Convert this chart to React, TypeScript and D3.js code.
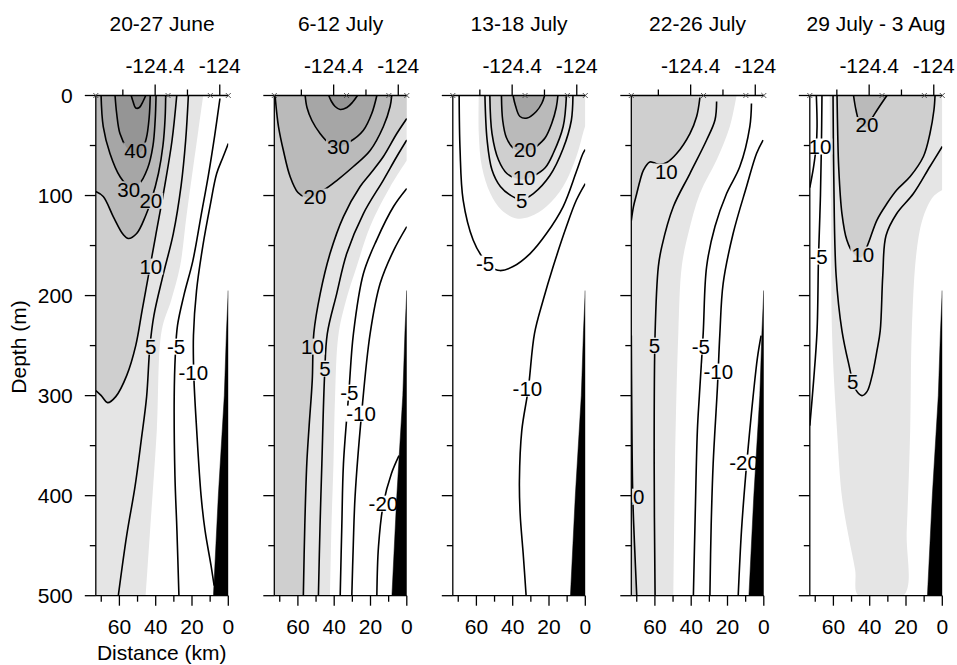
import React from 'react';
import * as d3 from 'd3';

type Pt = [number, number];
interface Contour { level: number; pts: Pt[]; label?: Pt; draw?: boolean; fill?: Pt[]; }

// ---------- data ----------
const titles = ['20-27 June', '6-12 July', '13-18 July', '22-26 July', '29 July - 3 Aug'];
const depthMajor = [0, 100, 200, 300, 400, 500];
const depthMinor = [50, 150, 250, 350, 450];
const distMajor = [60, 40, 20, 0];
const distMinor = [70, 50, 30, 10];
const lonMajor = [-124.4, -124];
const lonMinor = [-124.6, -124.2];
const lonRef: number[] = [-124.4, -124];
const lonRefKm: number[] = [40.3, 4.7];
const stations = [73, 33.2, 9.9, 0];
const bathymetry: Pt[] = [[0, 195], [1, 235], [2.2, 300], [5.5, 400], [8.2, 500]];
const fillLevels = [0, 10, 20, 30, 40, 50];
const fillColors = ['#e5e5e5', '#cfcfcf', '#bababa', '#a6a6a6', '#959595', '#888888'];

const june: Contour[] = [
  { level: 50, pts: [[53.5, 0], [52.5, 6], [51, 12.5], [49, 12], [47, 6], [45.5, 0]], fill: [] },
  { level: 40, label: [51, 55], pts: [[62.4, 0], [61.5, 18], [59.7, 38], [56, 52], [52, 59], [48, 56], [45.2, 43], [43.6, 22], [43, 0]], fill: [] },
  { level: 30, label: [54.9, 93.7], pts: [[70.1, 0], [68.9, 31], [65.2, 58], [59.7, 81], [54.5, 91], [49, 88], [44.5, 73], [41.5, 50], [40.3, 25], [39.8, 0]], fill: [] },
  { level: 20, label: [42.7, 105.3], pts: [[73, 96], [68.9, 101], [63.4, 121], [57.9, 139], [55.1, 143], [50.5, 138], [45.5, 120], [42.3, 104], [38.5, 78], [36, 50], [34.8, 22], [34.5, 0]], fill: [[73, 0]] },
  { level: 10, label: [42.7, 171], pts: [[73, 295], [70, 300], [66.5, 307], [62, 301], [56, 280], [51, 250], [47.5, 215], [43.5, 175], [40, 140], [35, 90], [31, 45], [28.4, 0]], fill: [[73, 0]] },
  { level: 5, label: [42.7, 251], pts: [[22, 0], [23.5, 45], [26, 90], [30.3, 138], [36, 180], [41, 220], [43.2, 251], [45, 301], [48, 345], [51.4, 391], [56, 440], [60.6, 500]] },
  { level: 0, draw: false, pts: [[13.8, 0], [16.5, 35], [19.3, 71], [23, 120], [26.6, 171], [31.5, 205], [36.7, 235], [39.4, 335], [43.1, 435], [45.5, 500]], fill: [[73, 500], [73, 0]] },
  { level: -5, label: [28.8, 251], pts: [[4.6, 3], [7.5, 40], [11, 80], [15, 120], [19.5, 165], [24.5, 200], [28, 230], [29.2, 260], [29.8, 301], [29.4, 380], [28.3, 435], [27.2, 500]] },
  { level: -10, label: [19.3, 277], pts: [[0, 48], [3, 62], [6.4, 78], [10, 110], [14, 150], [17.5, 195], [19.2, 240], [19, 280], [17.4, 335], [15, 400], [12.8, 435], [9.5, 470], [7.8, 490]] },
];

const july6: Contour[] = [
  { level: 40, pts: [[43, 0], [41.5, 6], [39.5, 11], [36.7, 14], [33, 12], [30, 7], [27.2, 0]], fill: [] },
  { level: 30, label: [37.7, 51], pts: [[56, 0], [55, 12], [52.3, 25], [47.8, 38], [43.2, 47], [38, 51], [31.2, 46], [24, 35], [19.3, 18], [16.5, 0]], fill: [] },
  { level: 20, label: [50.6, 101], pts: [[72.6, 0], [71.5, 20], [70.7, 31], [68, 55], [64.3, 81], [60, 97], [55.5, 102], [50.6, 101], [46, 95], [38.6, 85], [29.4, 71], [20.2, 55], [12.9, 31], [9.2, 11], [8.3, 0]], fill: [] },
  { level: 10, label: [52, 251], pts: [[0, 23], [5.5, 38], [12.9, 61], [20, 78], [25.7, 91], [34.9, 121], [42.3, 158], [47.7, 198], [51.2, 237], [52.1, 285], [53.8, 330], [55.1, 368], [56.2, 430], [57, 500]], fill: [[73, 500], [73, 0], [0, 0]] },
  { level: 5, label: [45.1, 273], pts: [[0, 44.5], [5.5, 61], [12.9, 84.5], [23.9, 118], [33.1, 158], [38.6, 198], [43.8, 238], [45.3, 280], [46.8, 368], [47.8, 430], [48.7, 500]] },
  { level: 0, draw: false, pts: [[0, 65], [9.2, 91.5], [20.2, 131], [27.6, 171], [33.5, 205], [37.7, 240], [39.5, 300], [40.4, 368], [41.5, 430], [42.3, 500]], fill: [[73, 500], [73, 0], [0, 0]] },
  { level: -5, label: [31.7, 297], pts: [[0, 93], [7.3, 111], [16.5, 144], [23.9, 178], [29.4, 238], [31.9, 296], [34.9, 368], [35.8, 430], [36.7, 500]] },
  { level: -10, label: [25.2, 318], pts: [[0, 131], [7.3, 155], [14.7, 188], [20.2, 238], [24.9, 318], [28.5, 401], [29.5, 450], [30.3, 500]] },
  { level: -20, label: [12.9, 408], pts: [[4.3, 360], [8.5, 378], [12.9, 408], [15.6, 451], [16.5, 500]] },
];

const july13: Contour[] = [
  { level: 30, pts: [[39.8, 0], [38.5, 10], [36, 21], [32, 22.5], [27, 16], [24, 8], [22.4, 0]], fill: [] },
  { level: 20, label: [33.2, 54], pts: [[46.2, 0], [45.5, 25], [43.5, 42], [40, 52], [35, 56], [30, 55], [26.9, 51], [22, 42], [18.5, 28], [16, 12], [15.1, 0]], fill: [] },
  { level: 10, label: [33.7, 82], pts: [[52.6, 0], [51.4, 38], [47.8, 64.5], [43.2, 78], [37.9, 83], [33.7, 84], [28, 80], [22, 72], [17.7, 58], [12.2, 31], [10.4, 0]], fill: [] },
  { level: 5, label: [35, 105.5], pts: [[55.3, 0], [54.1, 44.5], [51.4, 74.5], [46.8, 91], [41.4, 99.5], [35, 104], [28.6, 98], [19.5, 80], [12.2, 53], [7.7, 25], [6.8, 0]] },
  { level: 0, draw: false, pts: [[58.7, 0], [58.7, 38], [57, 71], [52.3, 98], [46.2, 114.5], [37.9, 123], [30.4, 121], [21.4, 111], [12.2, 91], [4.9, 61], [1.3, 38], [0, 30]], fill: [[0, 0]] },
  { level: -5, label: [55.2, 168], pts: [[69.5, 0], [69, 54.5], [67.3, 104.5], [61.8, 144.5], [57, 161], [52.3, 171], [47, 175], [39.8, 171], [30.4, 158], [21.4, 138], [12.2, 111], [4.9, 76], [1.3, 58], [0, 54]] },
  { level: -10, label: [31.9, 293], pts: [[0, 88], [4.9, 104.5], [10.4, 131], [17.7, 171], [23.2, 204.5], [28, 238], [31.4, 293], [35, 335], [36.3, 385], [35.9, 418], [34.1, 461], [32.6, 500]] },
];

const july22: Contour[] = [
  { level: 10, label: [53.7, 76], pts: [[35.2, 2], [37, 21], [40.7, 38], [48, 58], [53.5, 67], [57.5, 69], [60.8, 67], [62.8, 66.5], [66.3, 74.5], [68.1, 84.5], [70, 98], [71.8, 111], [73, 125]], fill: [[73, 0]] },
  { level: 10, label: [72, 401], pts: [[73, 240], [72.8, 300], [72.2, 400], [71.2, 450], [70, 500]], fill: [[73, 500]] },
  { level: 5, label: [60.3, 250], pts: [[26, 6], [26.9, 24.5], [31.5, 44.5], [40.7, 78], [49.8, 111], [56.2, 151], [58.1, 171], [59.9, 238], [60.4, 368], [59.9, 500]] },
  { level: 0, draw: false, pts: [[15, 0], [18.7, 31], [26, 64.5], [35.2, 98], [41.6, 138], [45.2, 171], [47.1, 238], [48.9, 368], [49.8, 500]], fill: [[73, 500], [73, 0]] },
  { level: -5, label: [34.7, 251], pts: [[6.8, 8], [7.7, 31], [13.2, 71], [20.5, 98], [26.9, 131], [31.5, 171], [33.4, 238], [35.5, 300], [36.6, 335], [37.8, 420], [38.8, 500]] },
  { level: -10, label: [25.1, 276], pts: [[0.4, 44.5], [4, 58], [9.5, 91], [16.9, 138], [22.4, 188], [24.2, 238], [25.5, 290], [27.9, 368], [29, 430], [29.7, 500]] },
  { level: -20, label: [10.9, 367], pts: [[1.5, 240], [3.5, 262], [5.9, 301], [8, 340], [10, 380], [12.3, 435], [14.1, 500]] },
];

const july29: Contour[] = [
  { level: 20, label: [41.5, 29.5], pts: [[48.9, 0], [47.5, 15], [45.5, 27], [42, 32], [38.5, 22], [35, 12], [30.5, 0]], fill: [] },
  { level: 10, label: [43.8, 159], pts: [[58, 0], [57.6, 40], [57.1, 71], [55.3, 118], [52.6, 144.5], [48.9, 158], [45, 162], [41.5, 151], [36, 124.5], [30.5, 108], [25.1, 94.5], [17.7, 81], [10.4, 61], [6.8, 38], [4.6, 14.5], [4, 0]], fill: [] },
  { level: 5, label: [49.3, 286], pts: [[60.2, 0], [59.8, 80], [58.5, 180], [55.3, 235], [51.6, 268], [48, 293], [44.3, 300], [41.5, 296], [38.8, 281], [36, 255], [34.2, 235], [32.8, 180], [31, 140], [25.1, 118], [15.9, 98], [6.8, 71], [0, 51]] },
  { level: 0, draw: false, pts: [[62.1, 0], [61.3, 104.5], [60.8, 235], [58, 335], [55.3, 401], [51.6, 441], [48, 474.5], [46.2, 500], [21.4, 500], [19.6, 435], [17.7, 335], [16.8, 235], [14.1, 155], [10.4, 121], [4.9, 101], [0, 94.5]], fill: [[0, 0]] },
  { level: -5, label: [68.2, 161], pts: [[66.3, 0], [66.6, 50], [67.2, 104.5], [68.2, 161], [69, 235], [70.9, 285], [73, 330]] },
  { level: -10, label: [69.3, 51], pts: [[69.4, 0], [69, 31], [69.5, 51], [70.9, 71], [73, 92]] },
];

const sections: Contour[][] = [june, july6, july13, july22, july29];

// ---------- layout ----------
const W = 957, H = 665;
const FONT = '"Liberation Sans", Arial, Helvetica, sans-serif';
const FS = 21;      // axis / title text
const FL = 20.5;    // contour labels
const RIGHT0 = 228.3, STEP = 178.5, PXKM = 1.815, KMAX = 73;
const Y0 = 95.5, Y1 = 595.7;
const LW = 1.6;

const yScale = d3.scaleLinear().domain([0, 500]).range([Y0, Y1]);
const lonToKm = d3.scaleLinear().domain(lonRef).range(lonRefKm);
const fillColor = d3.scaleOrdinal<number, string>().domain(fillLevels).range(fillColors);

function textWidth(s: string) {
  let w = 0;
  for (const ch of s) w += (ch === '-' ? 0.333 : 0.556) * FL;
  return w;
}

function Panel({ idx }: { idx: number }) {
  const right = RIGHT0 + idx * STEP;
  const left = right - KMAX * PXKM;
  const x = d3.scaleLinear().domain([KMAX, 0]).range([left, right]);
  const gen = d3.line<Pt>().x(d => x(d[0])).y(d => yScale(d[1])).curve(d3.curveCatmullRom.alpha(0.5));
  const data = sections[idx];
  const fills = data.filter(c => c.fill).sort((a, b) => a.level - b.level);
  const lines = data.filter(c => c.draw !== false);
  const labels = data.filter(c => c.label);
  const fillPath = (c: Contour) => {
    let p = gen(c.pts) || '';
    for (const q of c.fill!) p += `L${x(q[0])},${yScale(q[1])}`;
    return p + 'Z';
  };
  const wedge = d3.line<Pt>().x(d => x(d[0])).y(d => yScale(d[1]))([...bathymetry, [0, 500]]) + 'Z';
  const clipId = `clip-${idx}`;
  const maskId = `mask-${idx}`;
  const cx = (left + right) / 2;
  return (
    <g>
      <defs>
        <clipPath id={clipId}>
          <rect x={left} y={Y0} width={right - left} height={Y1 - Y0} />
        </clipPath>
        <mask id={maskId} maskUnits="userSpaceOnUse" x={0} y={0} width={W} height={H}>
          <rect x={0} y={0} width={W} height={H} fill="#fff" />
          {labels.map((c, k) => {
            const s = String(c.level);
            const w = textWidth(s) + 2;
            return <rect key={k} x={x(c.label![0]) - w / 2} y={yScale(c.label![1]) - 8} width={w} height={16} fill="#000" />;
          })}
        </mask>
      </defs>
      <g clipPath={`url(#${clipId})`}>
        <rect x={left} y={Y0} width={right - left} height={Y1 - Y0} fill="#fff" />
        {fills.map((c, k) => (
          <path key={k} d={fillPath(c)} fill={fillColor(c.level)} stroke="none" />
        ))}
        <g mask={`url(#${maskId})`}>
          {lines.map((c, k) => (
            <path key={k} d={gen(c.pts) || ''} fill="none" stroke="#000" strokeWidth={LW} strokeLinejoin="round" />
          ))}
        </g>
        {labels.map((c, k) => (
          <text key={k} x={x(c.label![0])} y={yScale(c.label![1])} dy="0.36em" textAnchor="middle" fontSize={FL} fill="#000">
            {String(c.level)}
          </text>
        ))}
        <path d={wedge} fill="#000" stroke="#000" strokeWidth={0.5} />
      </g>
      {/* frame lines */}
      <line x1={left} x2={right} y1={Y0} y2={Y0} stroke="#000" strokeWidth={1.3} />
      <line x1={left} x2={left} y1={Y0} y2={Y1} stroke="#000" strokeWidth={1.3} />
      <line x1={left} x2={right} y1={Y1} y2={Y1} stroke="#000" strokeWidth={1.3} />
      {/* y ticks */}
      {depthMajor.map(d => <line key={'ym' + d} x1={left - 11} x2={left} y1={yScale(d)} y2={yScale(d)} stroke="#000" strokeWidth={1.3} />)}
      {depthMinor.map(d => <line key={'yn' + d} x1={left - 6} x2={left} y1={yScale(d)} y2={yScale(d)} stroke="#000" strokeWidth={1.3} />)}
      {idx === 0 && depthMajor.map(d => (
        <text key={'yl' + d} x={left - 23} y={yScale(d)} dy="0.36em" textAnchor="end" fontSize={FS} fill="#000">{d}</text>
      ))}
      {/* bottom ticks */}
      {distMajor.map(d => <line key={'xm' + d} x1={x(d)} x2={x(d)} y1={Y1} y2={Y1 + 10} stroke="#000" strokeWidth={1.3} />)}
      {distMinor.map(d => <line key={'xn' + d} x1={x(d)} x2={x(d)} y1={Y1} y2={Y1 + 6} stroke="#000" strokeWidth={1.3} />)}
      {distMajor.map(d => (
        <text key={'xl' + d} x={x(d)} y={633.5} textAnchor="middle" fontSize={FS} fill="#000">{d}</text>
      ))}
      {/* top longitude ticks */}
      {lonMajor.map(l => <line key={'lm' + l} x1={x(lonToKm(l))} x2={x(lonToKm(l))} y1={Y0 - 11} y2={Y0} stroke="#000" strokeWidth={1.3} />)}
      {lonMinor.map(l => <line key={'ln' + l} x1={x(lonToKm(l))} x2={x(lonToKm(l))} y1={Y0 - 6} y2={Y0} stroke="#000" strokeWidth={1.3} />)}
      {lonMajor.map(l => (
        <text key={'ll' + l} x={x(lonToKm(l))} y={72.7} textAnchor="middle" fontSize={FS} fill="#000">{String(l)}</text>
      ))}
      {/* station markers */}
      {stations.map(s => {
        const sx = x(s), sy = Y0, r = 2.5;
        return <path key={'st' + s} d={`M${sx - r},${sy - r}L${sx + r},${sy + r}M${sx - r},${sy + r}L${sx + r},${sy - r}`} stroke="#444" strokeWidth={0.9} fill="none" />;
      })}
      {/* title */}
      <text x={cx} y={31} textAnchor="middle" fontSize={FS} fill="#000">{titles[idx]}</text>
    </g>
  );
}

export default function App() {
  return (
    <svg width={W} height={H} viewBox={`0 0 ${W} ${H}`} style={{ position: 'absolute', left: 0, top: 0, background: '#fff' }} fontFamily={FONT}>
      <rect x={0} y={0} width={W} height={H} fill="#fff" />
      {titles.map((_, i) => <Panel key={i} idx={i} />)}
      <text transform={`translate(25.5,347) rotate(-90)`} textAnchor="middle" fontSize={FS} fill="#000">Depth (m)</text>
      <text x={161.7} y={659.5} textAnchor="middle" fontSize={FS} fill="#000">Distance (km)</text>
    </svg>
  );
}
